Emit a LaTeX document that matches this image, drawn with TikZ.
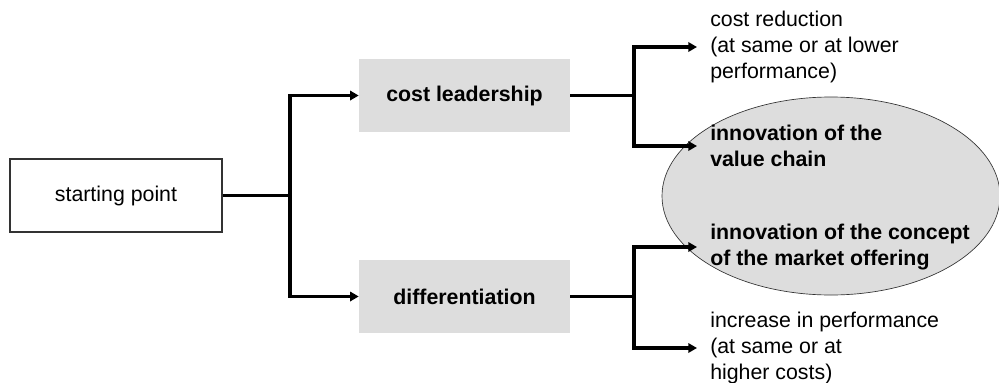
\documentclass[tikz,border=0pt]{standalone}
\usepackage{fontspec}
\setmainfont{Liberation Sans}
\usetikzlibrary{arrows.meta,shapes.geometric}
\definecolor{boxgray}{HTML}{DDDDDD}
\definecolor{edgegray}{HTML}{333333}
\begin{document}
\begin{tikzpicture}[x=0.75pt,y=-0.75pt,
  every node/.style={font=\fontsize{16}{19.5}\selectfont},
  startbox/.style={draw=edgegray,line width=0.8pt,minimum width=159pt,minimum height=54.75pt,inner sep=0pt},
  graybox/.style={fill=boxgray,minimum width=158.25pt,minimum height=54.75pt,inner sep=0pt,font=\fontsize{16}{19.5}\selectfont\bfseries},
  lbl/.style={anchor=west,align=left,inner sep=0pt},
  blbl/.style={lbl,font=\fontsize{16}{19.5}\selectfont\bfseries},
  conn/.style={line width=2.4pt,black},
  arr/.style={conn,-{Triangle[length=6.5pt,width=7pt]}},
  ellbox/.style={ellipse,draw=edgegray,line width=0.5pt,fill=boxgray,minimum width=253.5pt,minimum height=148.5pt,inner sep=0pt}
]
\useasboundingbox (0,0) rectangle (999,382);
\node[ellbox] (ell) at (831,196) {};
\node[startbox] (start) at (116,195.5) {starting point};
\node[graybox] (cl) at (464.5,95.5) {cost leadership};
\node[graybox] (diff) at (464.5,296.5) {differentiation};
\node[lbl] (cr) at (710,47) {cost reduction\\(at same or at lower\\performance)};
\node[blbl] (ivc) at (710,146) {innovation of the\\value chain};
\node[blbl] (icm) at (710,247) {innovation of the concept\\of the market offering};
\node[lbl] (ip) at (710,348) {increase in performance\\(at same or at\\higher costs)};
\coordinate (j0) at (290,195.5);
\coordinate (j1) at (634,95.5);
\coordinate (j2) at (634,296.5);
\draw[conn] (start.east) -- (j0);
\draw[arr] (j0) |- (cl.west);
\draw[arr] (j0) |- (diff.west);
\draw[conn] (cl.east) -- (j1);
\draw[arr] (j1) |- ([xshift=-9.75pt]cr.west);
\draw[arr] (j1) |- ([xshift=-9.75pt]ivc.west);
\draw[conn] (diff.east) -- (j2);
\draw[arr] (j2) |- ([xshift=-9.75pt]icm.west);
\draw[arr] (j2) |- ([xshift=-9.75pt]ip.west);
\end{tikzpicture}
\end{document}
